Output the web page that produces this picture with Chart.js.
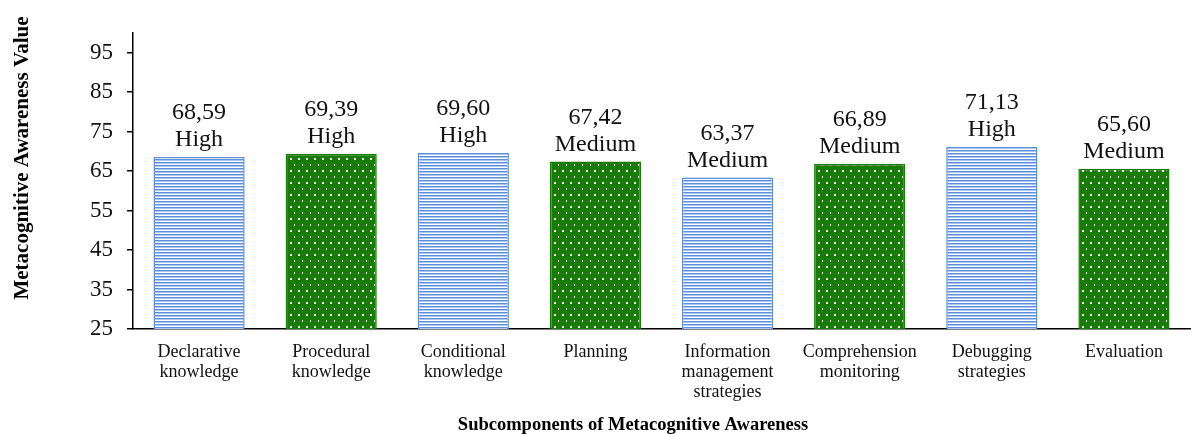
<!DOCTYPE html>
<html>
<head>
<meta charset="utf-8">
<script src="https://cdn.jsdelivr.net/npm/chart.js@4/dist/chart.umd.min.js"></script>
<style>
  html, body { margin: 0; padding: 0; background: #fff; }
  #wrap { width: 1196px; height: 434px; }
</style>
</head>
<body>
<div id="wrap"><canvas id="c" width="1196" height="434"></canvas></div>
<script>
const categories = [
  ["Declarative", "knowledge"],
  ["Procedural", "knowledge"],
  ["Conditional", "knowledge"],
  ["Planning"],
  ["Information", "management", "strategies"],
  ["Comprehension", "monitoring"],
  ["Debugging", "strategies"],
  ["Evaluation"]
];
const values = [68.59, 69.39, 69.60, 67.42, 63.37, 66.89, 71.13, 65.60];
const levels = ["High", "High", "High", "Medium", "Medium", "Medium", "High", "Medium"];
const patternKinds = ["stripes", "dots", "stripes", "dots", "stripes", "dots", "stripes", "dots"];
const yTicks = [25, 35, 45, 55, 65, 75, 85, 95];
const yTitle = "Metacognitive Awareness Value";
const xTitle = "Subcomponents of Metacognitive Awareness";

const BLUE = "#5b8fd9";
const GREEN = "#177d07";
const FONT = "'Liberation Serif', 'Times New Roman', serif";

function stripePattern() {
  const c = document.createElement("canvas");
  c.width = 6; c.height = 3;
  const x = c.getContext("2d");
  x.fillStyle = "#ffffff"; x.fillRect(0, 0, 6, 3);
  x.fillStyle = BLUE; x.fillRect(0, 0, 6, 1.5);
  return x.createPattern(c, "repeat");
}
function dotPattern() {
  const c = document.createElement("canvas");
  c.width = 8; c.height = 12;
  const x = c.getContext("2d");
  x.fillStyle = GREEN; x.fillRect(0, 0, 8, 12);
  x.fillStyle = "#ffffff";
  x.fillRect(2, 2, 2, 2);
  x.fillRect(6, 8, 1, 2);
  return x.createPattern(c, "repeat");
}
const stripes = stripePattern();
const dots = dotPattern();

const valueLabels = {
  id: "valueLabels",
  afterDatasetsDraw(chart) {
    const ctx = chart.ctx;
    const meta = chart.getDatasetMeta(0);
    ctx.save();
    ctx.fillStyle = "#111";
    ctx.font = "24px " + FONT;
    ctx.textAlign = "center";
    ctx.textBaseline = "alphabetic";
    meta.data.forEach((bar, i) => {
      const v = values[i].toFixed(2).replace(".", ",");
      ctx.fillText(levels[i], bar.x, bar.y - 11);
      ctx.fillText(v, bar.x, bar.y - 38);
    });
    ctx.restore();
  }
};

const yTitlePlugin = {
  id: "yTitlePlugin",
  afterDraw(chart) {
    const ctx = chart.ctx;
    ctx.save();
    ctx.translate(23, 158);
    ctx.rotate(-Math.PI / 2);
    ctx.fillStyle = "#000";
    ctx.font = "bold 21px " + FONT;
    ctx.textAlign = "center";
    ctx.textBaseline = "middle";
    ctx.fillText(yTitle, 0, 0);
    ctx.restore();
  }
};

new Chart(document.getElementById("c"), {
  type: "bar",
  data: {
    labels: categories,
    datasets: [{
      data: values,
      backgroundColor: patternKinds.map(k => k === "stripes" ? stripes : dots),
      borderColor: patternKinds.map(k => k === "stripes" ? BLUE : GREEN),
      borderWidth: 1.5,
      categoryPercentage: 1,
      barPercentage: 0.69
    }]
  },
  options: {
    responsive: false,
    animation: false,
    devicePixelRatio: 1,
    layout: { padding: { top: 33, right: 6, left: 76, bottom: 0 } },
    plugins: {
      legend: { display: false },
      tooltip: { enabled: false },
      title: {
        display: true,
        position: "bottom",
        text: xTitle,
        color: "#000",
        font: { family: FONT, size: 18.5, weight: "bold", lineHeight: 1.0 },
        padding: { top: 0, bottom: 0 }
      }
    },
    scales: {
      x: {
        grid: { display: false, drawTicks: false },
        border: { display: true, color: "#000", width: 1.5 },
        ticks: {
          color: "#111",
          font: { family: FONT, size: 18, lineHeight: 1.12 },
          padding: 13,
          maxRotation: 0,
          autoSkip: false
        }
      },
      y: {
        min: 25,
        max: 100,
        afterBuildTicks: (scale) => { scale.ticks = yTicks.map(v => ({ value: v })); },
        grid: { drawOnChartArea: false, drawTicks: true, tickLength: 6, color: "#000", lineWidth: 1.5 },
        border: { display: true, color: "#000", width: 1.5 },
        ticks: {
          color: "#111",
          font: { family: FONT, size: 23 },
          padding: 14
        }
      }
    }
  },
  plugins: [valueLabels, yTitlePlugin]
});
</script>
</body>
</html>
